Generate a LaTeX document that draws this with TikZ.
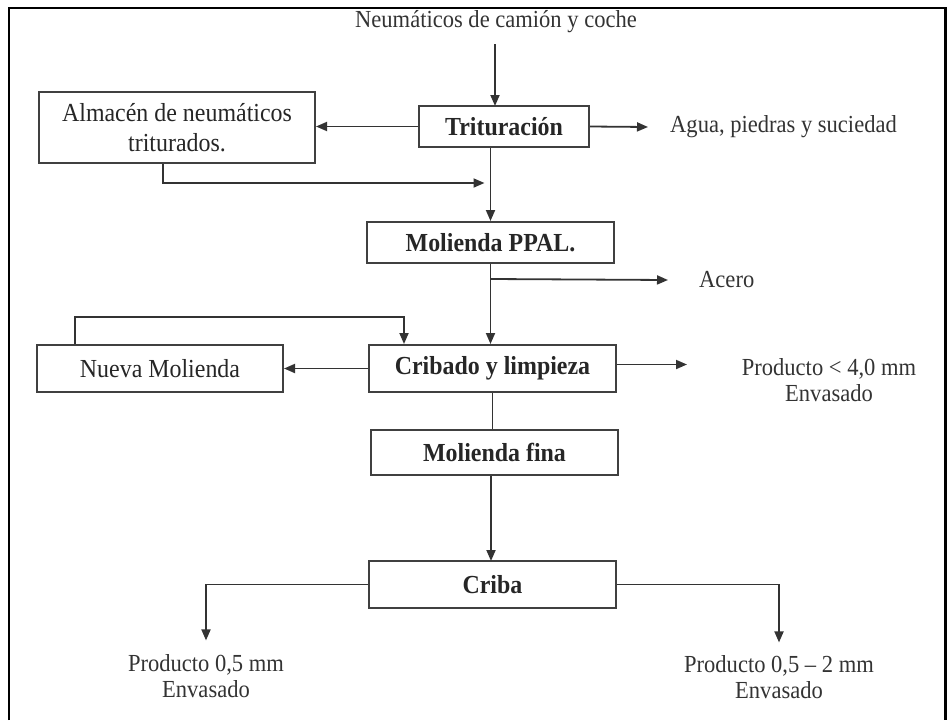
\documentclass[tikz,border=0pt]{standalone}
\usepackage{fontspec}
\setmainfont{Liberation Serif}[FakeStretch=0.92]
\usetikzlibrary{arrows.meta,positioning}

\tikzset{
  caja/.style={draw=black!75, line width=2pt, inner sep=0pt, align=center,
    text=black!85, font=\fontsize{26}{30}\selectfont},
  negrita/.style={caja, font=\fontsize{26}{30}\selectfont\bfseries},
  etiqueta/.style={inner sep=0pt, align=center, text=black!80,
    font=\fontsize{24.5}{25.5}\selectfont},
  flecha/.style={draw=black!80, line width=1.8pt, -{Triangle[length=11pt,width=9pt]}},
  linea/.style={draw=black!80, line width=1.8pt}
}

\begin{document}
\begin{tikzpicture}[x=1pt,y=-1pt]
  \useasboundingbox (0,0) rectangle (947,720);

  % Marco
  \draw[line width=2.2pt] (9,720) -- (9,8) -- (945.5,8) -- (945.5,720);

  % Cajas del proceso
  \node[negrita, minimum width=170pt, minimum height=41pt] (trit) at (504,126.5) {Trituración};
  \node[caja, minimum width=276pt, minimum height=71pt] (alm) at (177,127.5) {Almacén de neumáticos\\triturados.};
  \node[negrita, minimum width=247pt, minimum height=41pt] (ppal) at (490.5,242.5) {Molienda PPAL.};
  \node[negrita, minimum width=247pt, minimum height=47pt] (crib) at (492.5,368.5) {Cribado y limpieza};
  \node[caja, minimum width=246pt, minimum height=47pt] (nueva) at (160,368.5) {Nueva Molienda};
  \node[negrita, minimum width=247pt, minimum height=45pt] (fina) at (494.5,452.5) {Molienda fina};
  \node[negrita, minimum width=247pt, minimum height=47pt] (criba) at (492.5,584.5) {Criba};

  % Entradas y salidas
  \node[etiqueta] (neum) at (496,22) {Neumáticos de camión y coche};
  \node[etiqueta, anchor=west] (agua) at (670,127) {Agua, piedras y suciedad};
  \node[etiqueta, anchor=west] (acero) at (699,280) {Acero};
  \node[etiqueta] (prod4) at (829,380) {Producto < 4,0 mm\\Envasado};
  \node[etiqueta] (prod05) at (206,676) {Producto 0,5 mm\\Envasado};
  \node[etiqueta] (prod052) at (779,677) {Producto 0,5 – 2 mm\\Envasado};

  % Puntos de union
  \coordinate (j1) at (490.5,183);
  \coordinate (j2) at (490.5,279);
  \coordinate (t4) at (687,364.5);

  % Conexiones
  \draw[flecha] ([yshift=-11pt]neum.south -| 495,0) -- (495,106);
  \draw[flecha] (trit.west) -- (trit.west -| alm.east);
  \draw[flecha] (trit.east) -- ([xshift=-22pt]agua.west);
  \draw[flecha] (trit.south -| ppal.north) -- (ppal.north);
  \draw[flecha] ([xshift=-14pt]alm.south) |- ([xshift=-6pt]j1);
  \draw[flecha] (ppal.south) -- (ppal.south |- crib.north);
  \draw[flecha] (j2) -- ([xshift=-31pt]acero.west);
  \draw[flecha] (crib.west) -- (nueva.east);
  \draw[flecha] ([xshift=-85pt]nueva.north) -- ++(0,-27) -| ([xshift=-88.5pt]crib.north);
  \draw[flecha] (crib.east |- t4) -- (t4);
  \draw[linea] (crib.south) -- (crib.south |- fina.north);
  \draw[flecha] (fina.south -| 491,0) -- (491,561);
  \draw[flecha] (criba.west) -| ([yshift=14pt]prod05.north);
  \draw[flecha] (criba.east) -| ([yshift=13pt]prod052.north);
\end{tikzpicture}
\end{document}
